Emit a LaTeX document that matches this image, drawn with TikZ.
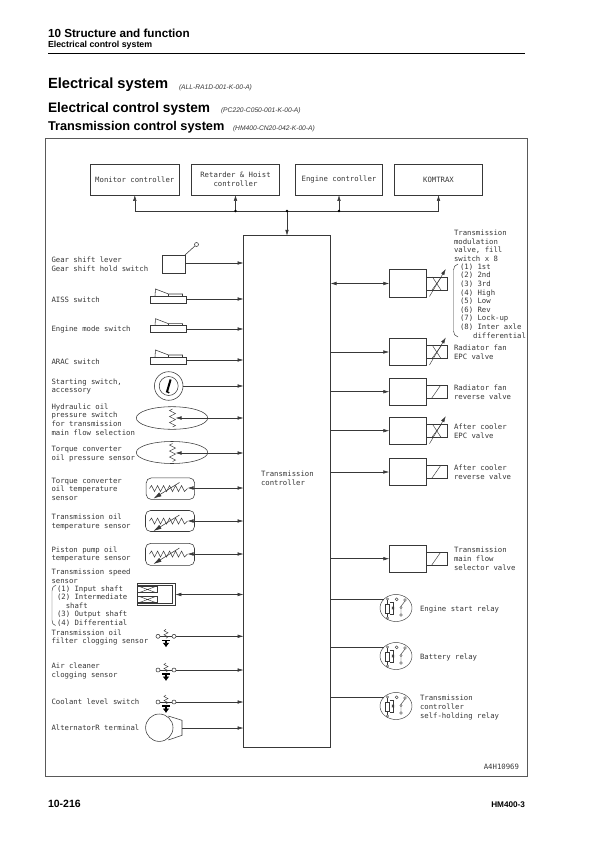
\documentclass[tikz,border=0pt]{standalone}
\usepackage{fontspec}
\setmainfont{Liberation Sans}
\newfontfamily\cadfont{DejaVu Sans Mono}
\usetikzlibrary{arrows.meta,shapes.geometric}
\definecolor{ink}{gray}{0.22}
\tikzset{
  x=1pt,y=-1pt,
  ln/.style={draw=ink,line width=0.55pt},
  bx/.style={ln,rectangle,inner sep=0pt,outer sep=0pt},
  txt/.style={inner sep=0pt,outer sep=0pt,anchor=west,align=left,text=ink,font=\cadfont\fontsize{7.3}{8.6}\selectfont},
  ctxt/.style={txt,anchor=center,align=center},
  tip/.style={-{Latex[length=6pt,width=3.6pt]}},
  ptip/.style={{Latex[length=6pt,width=3.6pt]}-{Latex[length=6pt,width=3.6pt]}},
  hd/.style={inner sep=0pt,outer sep=0pt,anchor=base west,text=black},
  rocker/.pic={
    \draw[ln] (0,0) rectangle (36,7);
    \draw[ln] (4.5,0) -- (5,-7) -- (18,-2) -- (32,-2) -- (32,0);
    \draw[ln] (18,-2) -- (18,0);
  },
  spring/.pic={
    \draw[ln,line width=0.45pt] (0,-9) -- (-3,-7.5) -- (3,-4.5) -- (-3,-1.5) -- (3,1.5) -- (-3,4.5) -- (3,7.5) -- (0,9);
  },
  thermo/.pic={
    \draw[ln,line width=0.45pt] (-20,0) -- (-18,-3) -- (-15,3) -- (-12,-3) -- (-9,3) -- (-6,-3) -- (-3,3) -- (0,-3) -- (3,3) -- (6,-3) -- (9,3) -- (12,-3) -- (15,3) -- (18,0);
    \draw[ln,-{Latex[length=8pt,width=4.5pt]}] (10,-6) -- (-16,10);
  },
  clogsym/.pic={
    \draw[ln] (-8,0) circle (2) (8,0) circle (2);
    \draw[ln] (-6,0) -- (6,0);
    \draw[ln,line width=0.45pt] (0,-7) -- (-2,-5.5) -- (2,-3.5) -- (-2,-1.5) -- (2,.5) -- (0,2);
    \draw[line width=1.5pt,black] (-4,4) -- (4,4);
    \draw[line width=2.2pt,black,-{Latex[length=4.5pt,width=7pt]}] (0,4) -- (0,11);
  },
  relaysym/.pic={
    \draw[ln,line width=0.45pt] (0,0) ellipse (16 and 13.5);
    \draw[ln,line width=0.45pt] (-10.5,-4) rectangle (-6.5,5);
    \draw[ln,line width=0.45pt] (-8.5,-8) -- (-8.5,-4) (-8.5,5) -- (-8.5,9);
    \draw[ln,line width=0.45pt] (-6.5,-6) -- (-3,-6) -- (-3,6) -- (-6.5,6);
    \draw[ln,line width=0.45pt] (-5,0) -- (-1,0) (-4,-1.5) -- (-2,1.5) (-4,1.5) -- (-2,-1.5);
    \draw[ln,line width=0.4pt] (-8.5,-9) circle (1.2) (-8.5,10) circle (1.2) (0.7,-8.7) circle (1.5) (9,-8) circle (1.3) (5,-0.5) circle (1.2) (5,7) circle (1.3);
    \draw[ln,line width=0.45pt] (5,-1.7) -- (9,-7) (5,0.7) -- (5,5.7);
  },
  valveX/.pic={
    \draw[ln] (0,-6.5) rectangle (21,6.5);
    \draw[ln,line width=0.45pt] (6.5,-6.5) -- (15,6.5);
    \draw[ln,line width=0.45pt] (15.5,-6.5) -- (6,6.5);
    \draw[ln,line width=0.45pt,-{Latex[length=6pt,width=3.6pt]}] (3.5,13) -- (19.8,-14.5);
  },
  valveS/.pic={
    \draw[ln] (0,-6.5) rectangle (21,6.5);
    \draw[ln,line width=0.45pt] (5.7,6.5) -- (14.7,-6.5);
  },
}
\begin{document}
\begin{tikzpicture}
\useasboundingbox (0,0) rectangle (596,842);
\fill[white] (0,0) rectangle (596,842);
% page furniture
\node[hd,font=\bfseries\fontsize{11.7}{14}\selectfont] (h1) at (48,37.3) {10 Structure and function};
\node[hd,font=\bfseries\fontsize{8.8}{10}\selectfont] (h2) at (48,48) {Electrical control system};
\draw[black,line width=1.1pt] (48,53.2) -- (525,53.2);
\node[hd,font=\bfseries\fontsize{14.7}{19}\selectfont] (t1) at (48,89) {Electrical system};
\node[hd,font=\itshape\fontsize{6.7}{8}\selectfont,text=ink] (t1c) at (179,90) {(ALL-RA1D-001-K-00-A)};
\node[hd,font=\bfseries\fontsize{13.7}{16}\selectfont] (t2) at (48,112.7) {Electrical control system};
\node[hd,font=\itshape\fontsize{6.7}{8}\selectfont,text=ink] (t2c) at (221,113) {(PC220-C050-001-K-00-A)};
\node[hd,font=\bfseries\fontsize{12.75}{15}\selectfont] (t3) at (48,130.7) {Transmission control system};
\node[hd,font=\itshape\fontsize{6.7}{8}\selectfont,text=ink] (t3c) at (233,131) {(HM400-CN20-042-K-00-A)};
\node[hd,font=\bfseries\fontsize{10.5}{12}\selectfont] (f1) at (48,807) {10-216};
\node[hd,anchor=base east,font=\bfseries\fontsize{8.2}{10}\selectfont] (f2) at (525,807) {HM400-3};
% frame
\draw[draw=black!65,line width=0.7pt] (45.5,138.5) rectangle (527.3,776.5);
% top controllers
\node[bx,minimum width=88.5pt,minimum height=31pt] (mon) at (134.8,179.5) {};
\node[bx,minimum width=88pt,minimum height=31pt] (ret) at (235.5,179.5) {};
\node[bx,minimum width=86.5pt,minimum height=31pt] (eng) at (339,179.5) {};
\node[bx,minimum width=88pt,minimum height=31pt] (kom) at (438.5,179.5) {};
\node[ctxt] (mont) at (mon) {Monitor controller};
\node[ctxt] (rett) at (ret) {Retarder \& Hoist\\controller};
\node[ctxt] (engt) at (eng) {Engine controller};
\node[ctxt] (komt) at (kom) {KOMTRAX};
% transmission controller
\node[bx,minimum width=87pt,minimum height=511.5pt] (ctrl) at (287,491.5) {};
\node[txt] (ctrlt) at (261,478.5) {Transmission\\controller};
% bus
\coordinate (busm) at (287,211);
\draw[ln] (mon.south |- busm) -- (kom.south |- busm);
\draw[ln,tip] (mon.south |- busm) -- (mon.south);
\draw[ln,tip] (ret.south |- busm) -- (ret.south);
\draw[ln,tip] (eng.south |- busm) -- (eng.south);
\draw[ln,tip] (kom.south |- busm) -- (kom.south);
\draw[ln,tip] (busm) -- (ctrl.north);
\fill[black] (ret.south |- busm) circle (1.4) (busm) circle (1.4) (eng.south |- busm) circle (1.4);
% left labels
\node[txt] (l1) at (51.5,264.3) {Gear shift lever\\Gear shift hold switch};
\node[txt] (l2) at (51.5,300) {AISS switch};
\node[txt] (l3) at (51.5,329.5) {Engine mode switch};
\node[txt] (l4) at (51.5,361.5) {ARAC switch};
\node[txt] (l5) at (51.5,386.3) {Starting switch,\\accessory};
\node[txt] (l6) at (51.5,419.5) {Hydraulic oil\\pressure switch\\for transmission\\main flow selection};
\node[txt] (l7) at (51.5,454.3) {Torque converter\\oil pressure sensor};
\node[txt] (l8) at (51.5,489) {Torque converter\\oil temperature\\sensor};
\node[txt] (l9) at (51.5,521.8) {Transmission oil\\temperature sensor};
\node[txt] (l10) at (51.5,554.5) {Piston pump oil\\temperature sensor};
\node[txt] (l11) at (51.5,576.5) {Transmission speed\\sensor};
\node[txt] (l12) at (57,606) {(1) Input shaft\\(2) Intermediate\\\hspace*{8.8pt}shaft\\(3) Output shaft\\(4) Differential};
\node[txt] (l13) at (51.5,637.5) {Transmission oil\\filter clogging sensor};
\node[txt] (l14) at (51.5,671) {Air cleaner\\clogging sensor};
\node[txt] (l15) at (51.5,702) {Coolant level switch};
\node[txt] (l16) at (51.5,728) {AlternatorR terminal};
\draw[ln,line width=0.45pt] (56,585) .. controls (53,586) and (52,588) .. (52,591) -- (52,620) .. controls (52,623) and (53,625) .. (55.5,625.5);
% gear shift
\node[bx,minimum width=23pt,minimum height=18pt] (gear) at (173.5,264) {};
\node[circle,ln,minimum size=4pt,inner sep=0pt] (knob) at (196.5,244.5) {};
\draw[ln] (gear.north east) -- (knob);
\coordinate (p1) at (185,263);
\draw[ln,tip] (p1) -- (p1 -| ctrl.west);
% rockers
\pic at (150.5,296) {rocker}; \coordinate (p2) at (186.5,299);
\pic at (150.5,325.7) {rocker}; \coordinate (p3) at (186.5,329);
\pic at (150.5,357) {rocker}; \coordinate (p4) at (186.5,360);
\draw[ln,tip] (p2) -- (p2 -| ctrl.west);
\draw[ln,tip] (p3) -- (p3 -| ctrl.west);
\draw[ln,tip] (p4) -- (p4 -| ctrl.west);
% key switch
\node[circle,ln,minimum size=28.6pt,inner sep=0pt] (key) at (168.7,386) {};
\draw[ln] (key) circle (9.5);
\draw[black,line width=2pt] (166.8,392.5) -- (170.6,379.5);
\fill[black] (168.7,392.5) circle (1);
\draw[ln,tip] (key.east) -- (key.east -| ctrl.west);
% pressure sensors
\node[ellipse,ln,minimum width=71.4pt,minimum height=22.6pt,inner sep=0pt] (hyd) at (172,418) {};
\pic at (172.5,418) {spring}; \coordinate (p6) at (175.5,418);
\draw[ln,ptip] (p6) -- (p6 -| ctrl.west);
\node[ellipse,ln,minimum width=71.4pt,minimum height=22pt,inner sep=0pt] (tcp) at (172,452.5) {};
\pic at (172.5,452.5) {spring}; \coordinate (p7) at (175.5,453);
\draw[ln,ptip] (p7) -- (p7 -| ctrl.west);
% temperature sensors
\node[bx,rounded corners=5pt,minimum width=48.4pt,minimum height=21.5pt] (tct) at (170.4,488.7) {};
\pic at (169.5,488.5) {thermo}; \coordinate (p8) at (187.5,488);
\draw[ln,ptip] (p8) -- (p8 -| ctrl.west);
\node[bx,rounded corners=5pt,minimum width=49pt,minimum height=21pt] (tot) at (170,521) {};
\pic at (169.5,521) {thermo}; \coordinate (p9) at (187.5,521);
\draw[ln,ptip] (p9) -- (p9 -| ctrl.west);
\node[bx,rounded corners=5pt,minimum width=49pt,minimum height=22pt] (ppt) at (170,554.4) {};
\pic at (169.5,554) {thermo}; \coordinate (p10) at (187.5,554);
\draw[ln,ptip] (p10) -- (p10 -| ctrl.west);
% speed sensor
\node[bx,minimum width=38pt,minimum height=22.4pt] (spd) at (156.3,594.5) {};
\draw[ln,line width=0.45pt] (137.3,585) -- (172,585) -- (172,603) -- (137.3,603);
\draw[ln,line width=0.45pt] (137.3,586.7) rectangle (157,592.3) (137.3,596.7) rectangle (157,602.3);
\draw[ln,line width=0.45pt] (140,586.7) -- (155,592.3) (155,586.7) -- (140,592.3) (140,596.7) -- (155,602.3) (155,596.7) -- (140,602.3);
\draw[ln,ptip] (spd.east) -- (spd.east -| ctrl.west);
% clogging / level switches
\pic at (166,636.3) {clogsym}; \coordinate (p13) at (176,636.3);
\pic at (166,670) {clogsym}; \coordinate (p14) at (176,670);
\pic at (166,702) {clogsym}; \coordinate (p15) at (176,702);
\draw[ln,tip] (p13) -- (p13 -| ctrl.west);
\draw[ln,tip] (p14) -- (p14 -| ctrl.west);
\draw[ln,tip] (p15) -- (p15 -| ctrl.west);
% alternator
\node[circle,ln,minimum size=27.4pt,inner sep=0pt] (alt) at (159.3,727.7) {};
\draw[ln] (168.3,716) -- (182,720.3) -- (182,735.3) -- (168.3,740);
\coordinate (p16) at (182,728);
\draw[ln,tip] (p16) -- (p16 -| ctrl.west);
% right: valve drivers
\node[bx,minimum width=36.7pt,minimum height=27.5pt] (v1) at (407.6,283.5) {};
\node[bx,minimum width=36.7pt,minimum height=27.5pt] (v2) at (407.6,352) {};
\node[bx,minimum width=36.7pt,minimum height=27.5pt] (v3) at (407.6,391.7) {};
\node[bx,minimum width=36.7pt,minimum height=27.5pt] (v4) at (407.6,430.7) {};
\node[bx,minimum width=36.7pt,minimum height=27.5pt] (v5) at (407.6,472) {};
\node[bx,minimum width=36.7pt,minimum height=27.5pt] (v6) at (407.6,558.7) {};
\pic at (v1.east) {valveX};
\pic at (v2.east) {valveX};
\pic at (v3.east) {valveS};
\pic at (v4.east) {valveX};
\pic at (v5.east) {valveS};
\pic at (v6.east) {valveS};
\draw[ln,ptip] (v1.west -| ctrl.east) -- (v1.west);
\draw[ln,tip] (v2.west -| ctrl.east) -- (v2.west);
\draw[ln,tip] (v3.west -| ctrl.east) -- (v3.west);
\draw[ln,tip] (v4.west -| ctrl.east) -- (v4.west);
\draw[ln,tip] (v5.west -| ctrl.east) -- (v5.west);
\draw[ln,tip] (v6.west -| ctrl.east) -- (v6.west);
% relays
\pic at (396,608) {relaysym}; \coordinate (r1) at (384,599);
\pic at (396,656) {relaysym}; \coordinate (r2) at (384,647);
\pic at (396,706) {relaysym}; \coordinate (r3) at (384,697);
\draw[ln] (r1 -| ctrl.east) -- (r1);
\draw[ln] (r2 -| ctrl.east) -- (r2);
\draw[ln] (r3 -| ctrl.east) -- (r3);
% right labels
\node[txt] (q1) at (454,245.8) {Transmission\\modulation\\valve, fill\\switch x 8};
\node[txt] (q2) at (460,301) {(1) 1st\\(2) 2nd\\(3) 3rd\\(4) High\\(5) Low\\(6) Rev\\(7) Lock-up\\(8) Inter axle\\\hspace*{13.2pt}differential};
\draw[ln,line width=0.45pt] (458,264) .. controls (455,265) and (453.5,267) .. (453.5,270) -- (453.5,331) .. controls (453.5,334) and (455,336) .. (458,337);
\node[txt] (q3) at (454,352.3) {Radiator fan\\EPC valve};
\node[txt] (q4) at (454,392.5) {Radiator fan\\reverse valve};
\node[txt] (q5) at (454,431.3) {After cooler\\EPC valve};
\node[txt] (q6) at (454,472.3) {After cooler\\reverse valve};
\node[txt] (q7) at (454,558.8) {Transmission\\main flow\\selector valve};
\node[txt] (q8) at (420,609) {Engine start relay};
\node[txt] (q9) at (420,657) {Battery relay};
\node[txt] (q10) at (420,707.5) {Transmission\\controller\\self-holding relay};
\node[txt,anchor=east] (code) at (519,766.7) {A4H10969};
\end{tikzpicture}
\end{document}
